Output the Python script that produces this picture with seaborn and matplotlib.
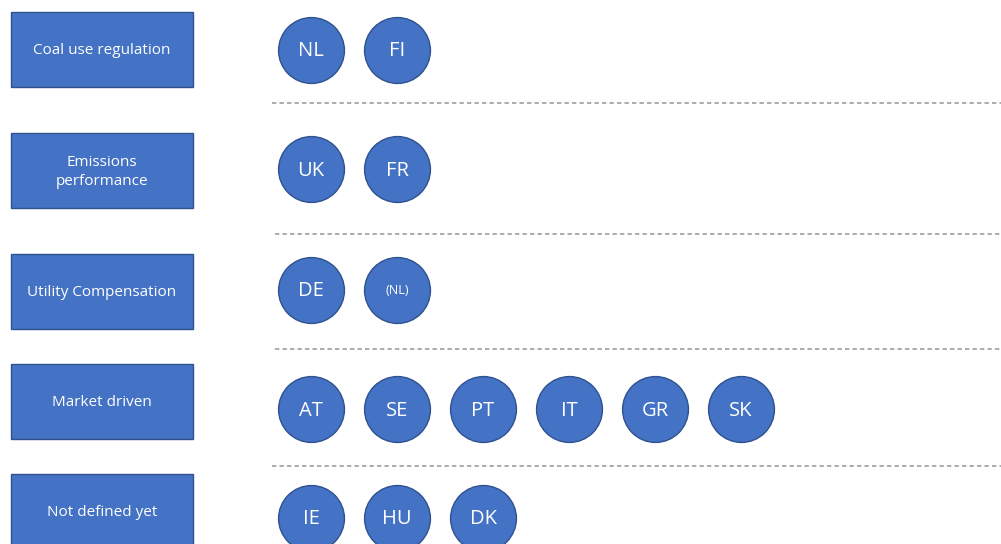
import matplotlib
matplotlib.use("Agg")
import matplotlib.pyplot as plt
from matplotlib.patches import Rectangle
import seaborn as sns
import pandas as pd

# ---- data ----
categories = ["Coal use regulation", "Emissions\nperformance", "Utility Compensation",
              "Market driven", "Not defined yet"]
countries_coal = ["NL", "FI"]
countries_emis = ["UK", "FR"]
countries_util = ["DE", "(NL)"]
countries_market = ["AT", "SE", "PT", "IT", "GR", "SK"]
countries_undef = ["IE", "HU", "DK"]
groups = [countries_coal, countries_emis, countries_util, countries_market, countries_undef]

# ---- layout (pixel space) ----
row_box_top = [12, 133, 254, 364, 474]
row_circle_y = [50, 169, 290, 409, 518]
sep_y = [103, 234, 349, 466]
sep_x0 = [272, 275, 275, 272]
BOX_X, BOX_W, BOX_H = 11, 182, 75
COL_X0, COL_DX = 311, 86
FILL, EDGE = "#4472C4", "#2F528F"

sns.set_theme(style="white")
plt.rcParams["font.family"] = ["Open Sans", "DejaVu Sans"]

fig = plt.figure(figsize=(10.01, 5.44), dpi=100)
ax = fig.add_axes([0, 0, 1, 1])
ax.set_xlim(0, 1001)
ax.set_ylim(544, 0)
ax.axis("off")

rows = []
for r, grp in enumerate(groups):
    for c, code in enumerate(grp):
        rows.append({"x": COL_X0 + COL_DX * c, "y": row_circle_y[r], "code": code})
df = pd.DataFrame(rows)

sns.scatterplot(data=df, x="x", y="y", s=2250, color=FILL, edgecolor=EDGE,
                linewidth=1.0, ax=ax, legend=False, clip_on=True, zorder=3)
for _, rr in df.iterrows():
    small = rr["code"].startswith("(")
    ax.text(rr["x"], rr["y"] + (0 if small else 1.5), rr["code"], color="white",
            fontsize=9 if small else 14.5, ha="center", va="center", zorder=4)

for r, cat in enumerate(categories):
    ax.add_patch(Rectangle((BOX_X, row_box_top[r]), BOX_W, BOX_H, facecolor=FILL,
                           edgecolor=EDGE, linewidth=1.0, zorder=2))
    ax.text(BOX_X + BOX_W / 2, row_box_top[r] + BOX_H / 2 + 1.5, cat, color="white",
            fontsize=11, ha="center", va="center", linespacing=1.35, zorder=3)

for y, x0 in zip(sep_y, sep_x0):
    ax.plot([x0, 1001], [y, y], color="#9E9E9E", linewidth=1.2,
            linestyle=(0, (2.6, 1.9)), zorder=1)

fig.savefig("out.png", dpi=100)
